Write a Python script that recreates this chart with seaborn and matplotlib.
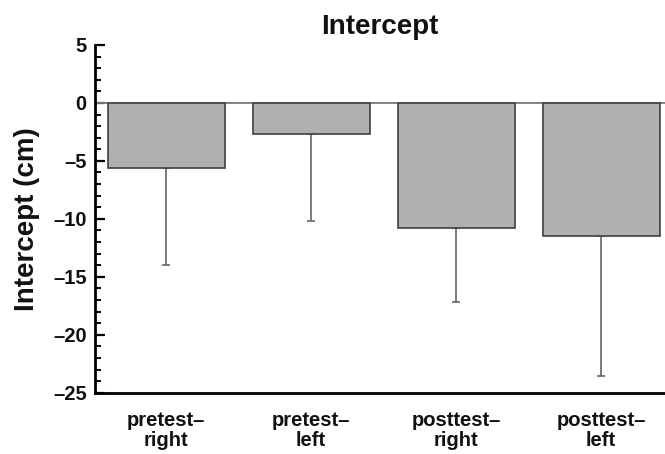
import matplotlib
matplotlib.use("Agg")
import matplotlib.pyplot as plt
from matplotlib.ticker import MultipleLocator
import seaborn as sns
import pandas as pd
import numpy as np

categories = ["pretest–\nright", "pretest–\nleft", "posttest–\nright", "posttest–\nleft"]
means = [-5.63, -2.68, -10.76, -11.48]
errors = [8.37, 7.5, 6.44, 12.1]
yticks = [5, 0, -5, -10, -15, -20, -25]

sns.set_theme(style="white")
plt.rcParams['font.family'] = ['Liberation Sans', 'DejaVu Sans']
plt.rcParams['font.weight'] = 'bold'
for k in ["text.color", "axes.labelcolor", "xtick.color", "ytick.color"]:
    plt.rcParams[k] = "#111111"

df = pd.DataFrame({"cond": categories, "mean": means, "err": errors})

fig = plt.figure(figsize=(6.65, 4.54), dpi=100)
ax = fig.add_axes([95/665, 61.3/454, 570/665, (392.7-45)/454])

sns.barplot(data=df, x="cond", y="mean", order=categories, color="#b0b0b0",
            errorbar=None, width=0.807, edgecolor="#404040", linewidth=1.2,
            saturation=1, ax=ax, zorder=3)

xpos = np.arange(len(categories))
ax.errorbar(xpos, df["mean"], yerr=[df["err"], np.zeros(len(df))], fmt="none",
            ecolor="#666666", elinewidth=1.2, capsize=3, capthick=1.2, zorder=1)

ax.axhline(0, color="#7a7a7a", linewidth=1.3, zorder=2)

ax.set_xlim(-0.49, 3.44)
ax.set_ylim(-25, 5)
ax.set_yticks(yticks)
ax.yaxis.set_minor_locator(MultipleLocator(1))
ax.set_yticklabels([str(v).replace("-", "\u2013") for v in yticks])

for s in ["top", "right"]:
    ax.spines[s].set_visible(False)
for s in ["left", "bottom"]:
    ax.spines[s].set_linewidth(2.0)
    ax.spines[s].set_color("black")

ax.tick_params(axis="y", which="major", direction="in", length=7, width=1.6,
               color="black", labelsize=14.5, pad=6, left=True)
ax.tick_params(axis="y", which="minor", direction="in", length=4.5, width=1.4,
               color="black", left=True)
ax.tick_params(axis="x", length=0, labelsize=14.5, pad=13)
for lab in ax.get_xticklabels() + ax.get_yticklabels():
    lab.set_fontweight("bold")
for lab in ax.get_xticklabels():
    lab.set_linespacing(1.1)

ax.set_xlabel("")
ax.set_ylabel("Intercept (cm)", fontsize=20, fontweight="bold", labelpad=9)
ax.set_title("Intercept", fontsize=20, fontweight="bold", pad=8)

fig.savefig("out.png", dpi=100)
